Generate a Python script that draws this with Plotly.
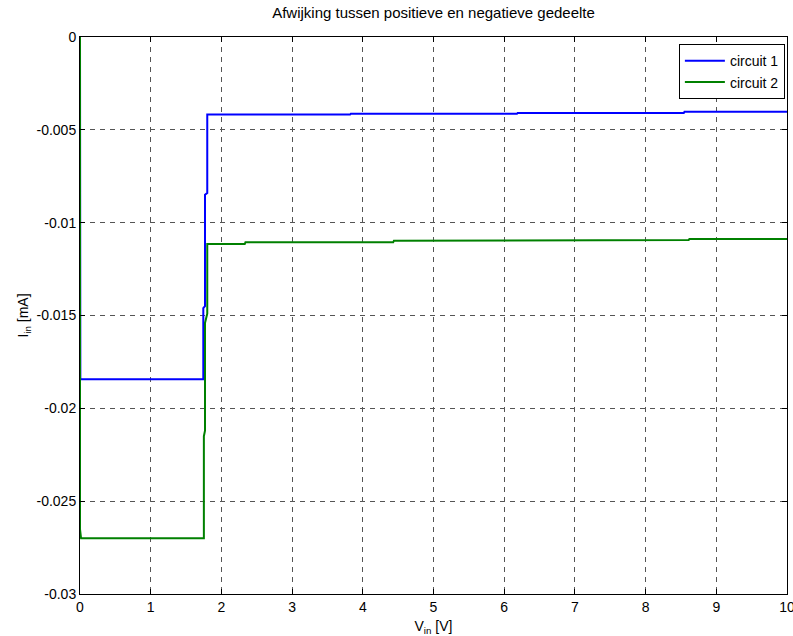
import plotly.graph_objects as go

# Measured input current versus input voltage for the two circuits
v_circuit1 = [0.0, 0.005, 1.744, 1.744, 1.768, 1.768, 1.800, 1.800, 3.82, 3.83,
              6.18, 6.19, 8.54, 8.55, 10.0]
i_circuit1 = [0.0, -0.01844, -0.01844, -0.0146, -0.0145, -0.0085, -0.0084, -0.00418,
              -0.00418, -0.00414, -0.00414, -0.00410, -0.00410, -0.00402, -0.00402]

v_circuit2 = [0.0, 0.0, 0.015, 1.752, 1.752, 1.768, 1.768, 1.800, 1.800, 2.33, 2.34,
              4.43, 4.44, 6.52, 6.53, 8.61, 8.62, 10.0]
i_circuit2 = [0.0, -0.0265, -0.0270, -0.0270, -0.0215, -0.0212, -0.0154, -0.0149,
              -0.01115, -0.01115, -0.01106, -0.01106, -0.01097, -0.01097, -0.01093,
              -0.01093, -0.01088, -0.01088]

x_ticks = list(range(0, 11))
y_ticks = [0, -0.005, -0.01, -0.015, -0.02, -0.025, -0.03]
y_tick_labels = ["0", "-0.005", "-0.01", "-0.015", "-0.02", "-0.025", "-0.03"]

FONT = "Liberation Sans, Arial, Helvetica, sans-serif"

fig = go.Figure()
fig.add_trace(go.Scatter(x=v_circuit1, y=i_circuit1, mode="lines", name="circuit 1",
                         line=dict(color="#0000FF", width=2)))
fig.add_trace(go.Scatter(x=v_circuit2, y=i_circuit2, mode="lines", name="circuit 2",
                         line=dict(color="#008000", width=2)))

axis_common = dict(
    showline=True, linecolor="black", linewidth=1, mirror="ticks",
    ticks="inside", ticklen=5, tickcolor="black", tickwidth=1,
    showgrid=True, gridcolor="#555555", gridwidth=1, griddash="5px,5px",
    zeroline=False, tickfont=dict(family=FONT, size=14, color="black"),
    ticklabeloverflow="allow", automargin=False,
)

fig.update_xaxes(range=[0, 10], tickvals=x_ticks, **axis_common,
                 title=dict(text="V<sub>in</sub> [V]", font=dict(family=FONT, size=14, color="black"),
                            standoff=9))
fig.update_yaxes(range=[-0.03, 0], tickvals=y_ticks, ticktext=y_tick_labels, **axis_common,
                 title=dict(text="I<sub>in</sub> [mA]", font=dict(family=FONT, size=14, color="black"),
                            standoff=4))

fig.update_layout(
    width=793, height=636,
    margin=dict(l=80, r=6, t=37, b=42),
    paper_bgcolor="white", plot_bgcolor="white",
    title=dict(text="Afwijking tussen positieve en negatieve gedeelte",
               font=dict(family=FONT, size=15, color="black"),
               x=0.5, xref="paper", xanchor="center", y=1 - 13 / 636, yanchor="middle"),
    legend=dict(x=0.997, y=0.987, xanchor="right", yanchor="top",
                bgcolor="white", bordercolor="black", borderwidth=1,
                font=dict(family=FONT, size=14, color="black"),
                tracegroupgap=0, itemwidth=40),
    showlegend=True,
)

fig.write_html("out.html")
